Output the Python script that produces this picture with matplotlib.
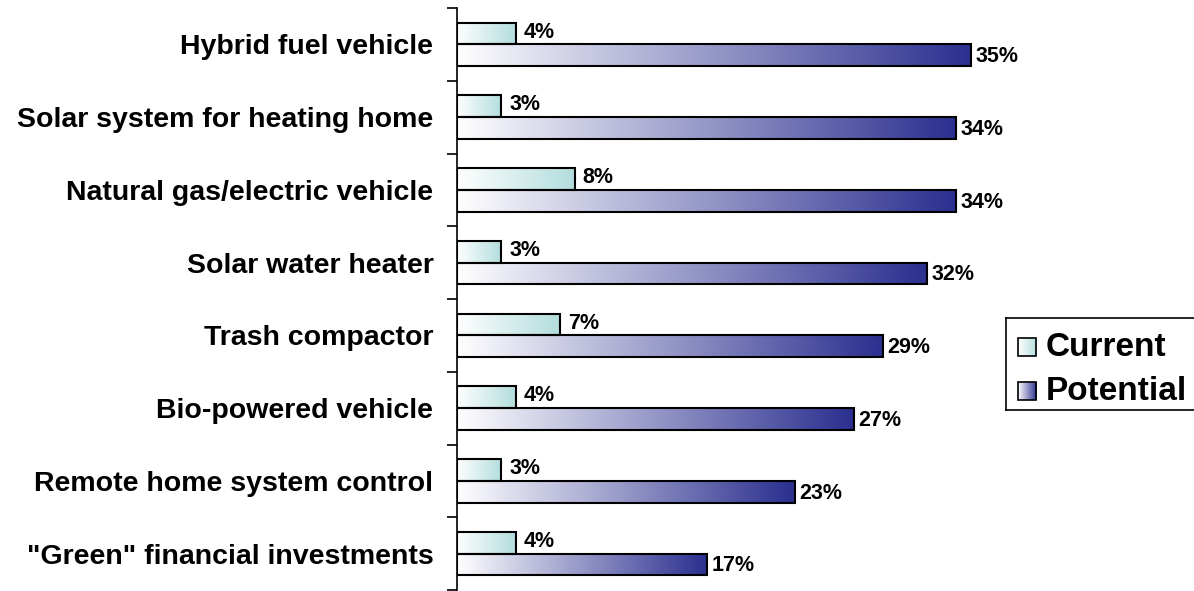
import numpy as np
import matplotlib.pyplot as plt
from matplotlib.colors import LinearSegmentedColormap
from matplotlib.patches import Rectangle

plt.rcParams['font.family'] = ['Liberation Sans', 'DejaVu Sans']
plt.rcParams['font.weight'] = 'bold'

categories = ['Hybrid fuel vehicle', 'Solar system for heating home',
              'Natural gas/electric vehicle', 'Solar water heater',
              'Trash compactor', 'Bio-powered vehicle',
              'Remote home system control', '"Green" financial investments']
current = [4, 3, 8, 3, 7, 4, 3, 4]
potential = [35, 34, 34, 32, 29, 27, 23, 17]
series_names = ['Current', 'Potential']

cmap_cur = LinearSegmentedColormap.from_list('cur', ['#ffffff', '#b3dddd'])
cmap_pot = LinearSegmentedColormap.from_list('pot', ['#ffffff', '#2b2f8f'])
grad = np.linspace(0, 1, 256).reshape(1, -1)

W, H = 1194, 591
fig = plt.figure(figsize=(W / 100, H / 100), dpi=100)
ax = fig.add_axes([457 / W, 1 - 590 / H, (1000 - 457) / W, 582 / H])

n = len(categories)
bh = 0.30


def gradient_bar(y0, y1, value, cmap):
    ax.imshow(grad, cmap=cmap, extent=[0, value, y0, y1], aspect='auto',
              interpolation='bicubic', zorder=2)
    ax.add_patch(Rectangle((0, y0), value, y1 - y0, fill=False,
                           edgecolor='black', linewidth=1.5, zorder=3))


for i in range(n):
    c = i + 0.5  # slot centre, slots counted from the top
    # current bar sits above the centre, potential below
    gradient_bar(c - bh, c, current[i], cmap_cur)
    gradient_bar(c, c + bh, potential[i], cmap_pot)
    ax.text(current[i] + 0.55, c - bh / 2 - 0.02, f'{current[i]}%',
            ha='left', va='center', fontsize=15.5, fontweight='bold')
    ax.text(potential[i] + 0.3, c + bh / 2 + 0.02, f'{potential[i]}%',
            ha='left', va='center', fontsize=15.5, fontweight='bold')

ax.set_xlim(0, (1000 - 457) / 14.69)
ax.set_ylim(n, 0)
ax.set_yticks(np.arange(n + 1))
ax.set_yticklabels([])
ax.set_yticks(np.arange(n) + 0.5, minor=True)
ax.set_yticklabels(categories, minor=True, fontsize=20.5, fontweight='bold')
ax.tick_params(axis='y', which='major', direction='out', length=7, width=1.2)
ax.tick_params(axis='y', which='minor', length=0, pad=17)
ax.set_xticks([])
for s in ['top', 'right', 'bottom']:
    ax.spines[s].set_visible(False)
ax.spines['left'].set_linewidth(1.2)

# legend box drawn as its own small axes
lg = fig.add_axes([1006 / W, 1 - 410 / H, 200 / W, 92 / H])
for s in lg.spines.values():
    s.set_linewidth(1.2)
for k, (name, cm) in enumerate(zip(series_names, [cmap_cur, cmap_pot])):
    yc = 29 + k * 44
    lg.imshow(grad, cmap=cm, extent=[12, 30, yc + 9, yc - 9], aspect='auto',
              interpolation='bicubic')
    lg.add_patch(Rectangle((12, yc - 9), 18, 18, fill=False,
                           edgecolor='black', linewidth=1.2))
    lg.text(40, yc, name, ha='left', va='center', fontsize=24,
            fontweight='bold')
lg.set_xlim(0, 200)
lg.set_ylim(92, 0)
lg.set_xticks([])
lg.set_yticks([])

fig.savefig('out.png', dpi=100)
